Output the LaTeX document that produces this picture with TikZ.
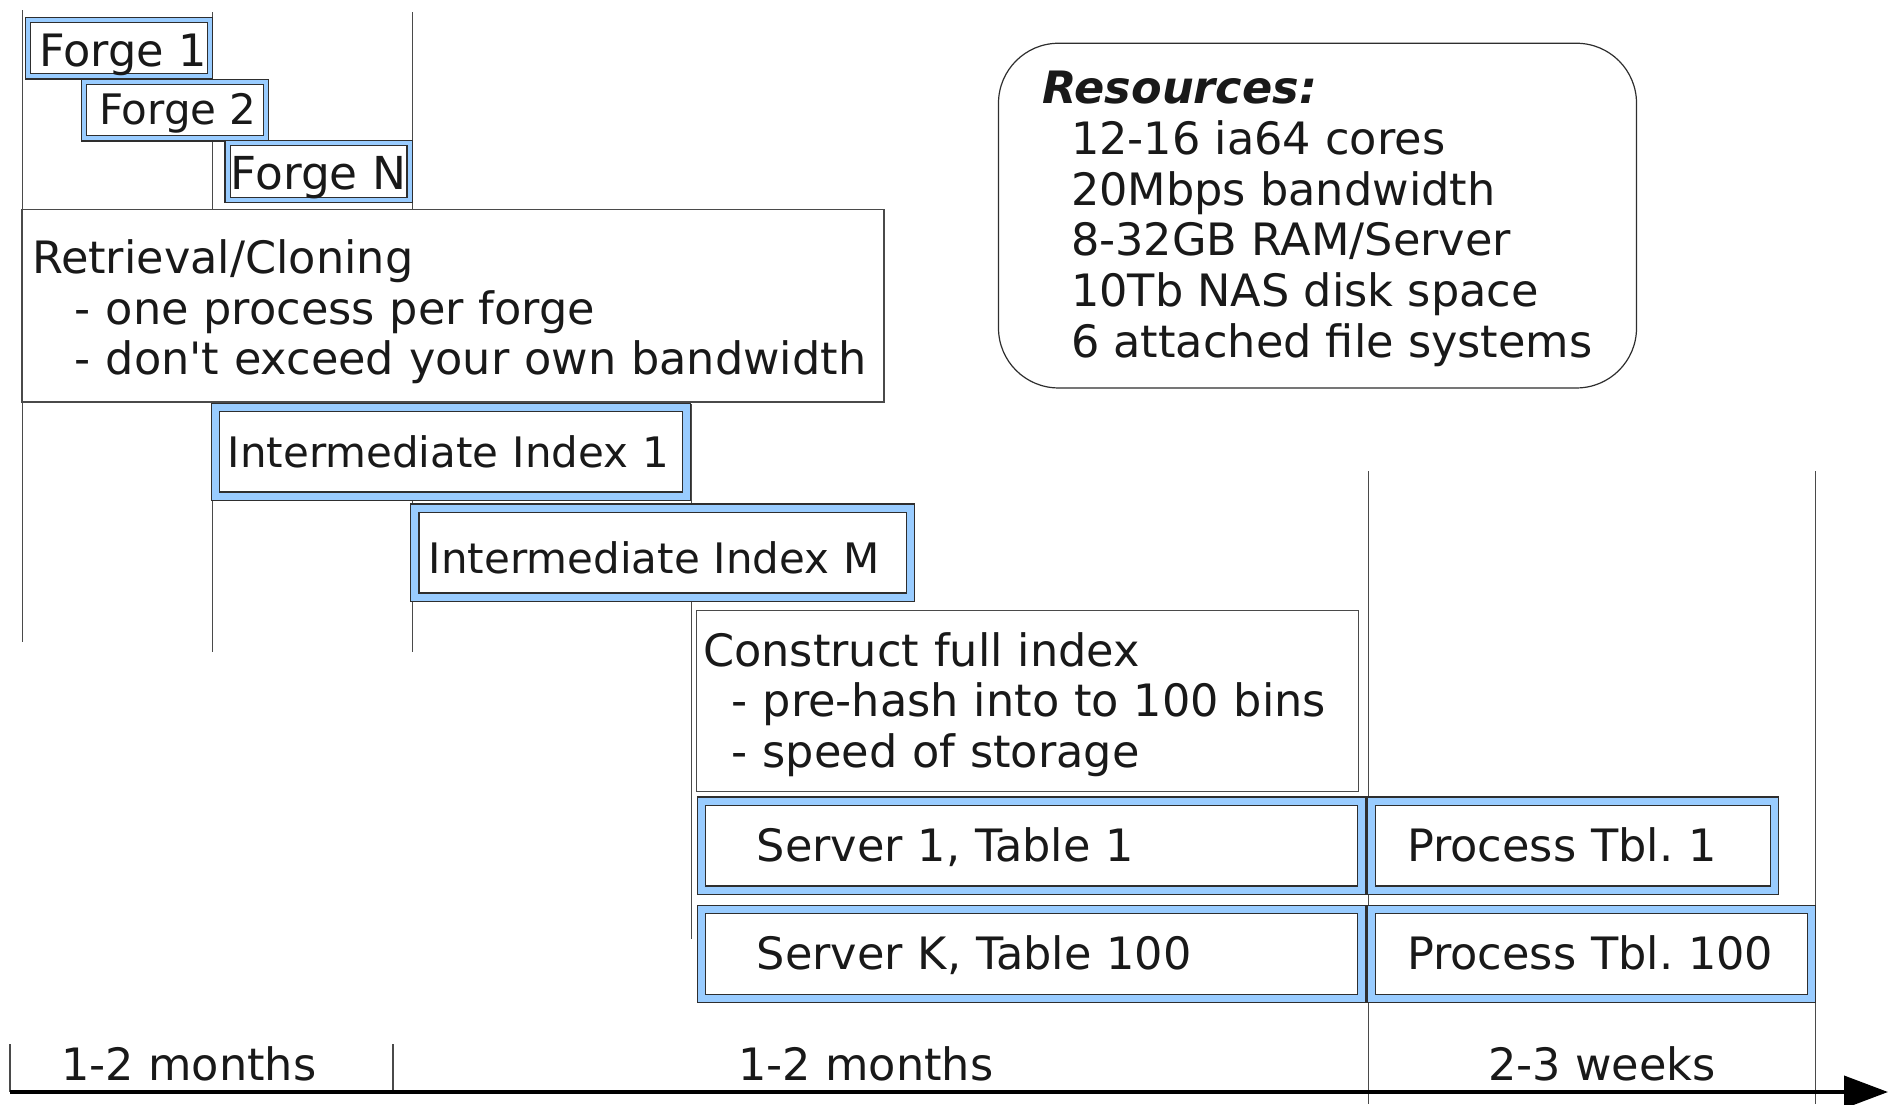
\documentclass[tikz,border=0pt]{standalone}
\usepackage{fontspec}
\setmainfont{DejaVu Sans}
\usetikzlibrary{arrows.meta}
\definecolor{bandblue}{HTML}{99CCFF}
\definecolor{boxline}{HTML}{2E2E2E}
\definecolor{gridline}{HTML}{4A4A4A}
\frenchspacing

\begin{document}
\begin{tikzpicture}[x=1pt, y=-1pt,
	every node/.style={font=\fontsize{44.6}{50.7}\selectfont, text=black!90, inner sep=0pt},
	forgebox/.style={draw=boxline, line width=1.2pt, double=bandblue, double distance=4pt, fill=white, minimum width=182pt, minimum height=56.6pt, text height=35.7pt, text depth=4.5pt},
	tablebox/.style={draw=boxline, line width=1.2pt, double=bandblue, double distance=7pt, fill=white, align=left, minimum height=89pt, text height=35.7pt, text depth=4.5pt},
	notebox/.style={draw=gridline, line width=1.2pt, fill=white, align=left},
	gridrule/.style={draw=gridline, line width=1pt},
	]
	\useasboundingbox (0,0) rectangle (1892,1104);

	\draw[gridrule] (22,10) -- (22,642);
	\draw[gridrule] (212,12) -- (212,652);
	\draw[gridrule] (412,12) -- (412,652);
	\draw[gridrule] (691,404) -- (691,939);
	\draw[gridrule] (1368,471) -- (1368,1104);
	\draw[gridrule] (1815,471) -- (1815,1104);

	\node[forgebox, text height=42pt] (F-00) at ( 119 ,  48  ) {\hspace*{8pt}Forge 1};
	\node[forgebox, text depth=7.5pt, font=\fontsize{42}{50.7}\selectfont] (F-01) at ( 175 , 110  ) {\hspace*{6pt}Forge 2};
	\node[forgebox, text height=40.5pt, font=\fontsize{45.4}{50.7}\selectfont] (F-02) at ( 318.5, 171.5) {Forge N};

	\node[notebox, inner xsep=10pt, text width=842pt, minimum height=192.5pt] (R-00) at ( 453 , 305.8) {\rule{0pt}{46pt}Retrieval/Cloning\\\hspace*{0.96em}- one process per forge\\\hspace*{0.96em}- don\textquotesingle t exceed your own bandwidth};

	\node[tablebox, inner xsep=12pt, text width=446.6pt, minimum height=88.6pt, font=\fontsize{42}{50.7}\selectfont] (I-00) at ( 451 , 451.7) {Intermediate Index 1};
	\node[tablebox, inner xsep=14pt, text width=467.6pt, text height=42pt, text depth=0.4pt, font=\fontsize{42}{50.7}\selectfont] (I-01) at ( 662.7, 552.5) {Intermediate Index M};

	\node[notebox, inner xsep=7pt, text width=648.4pt, minimum height=181pt] (C-00) at (1027.4, 701 ) {\rule{0pt}{41pt}Construct full index\\\hspace*{0.64em}- pre-hash into to 100 bins\\\hspace*{0.64em}- speed of storage};

	\node[tablebox, inner xsep=55pt, text width=550pt] (S-00) at (1031.7, 845.5) {Server 1, Table 1};
	\node[tablebox, inner xsep=55pt, text width=550pt] (S-01) at (1031.7, 954 ) {Server K, Table 100};

	\node[tablebox, inner xsep=36pt, text width=331.2pt] (P-00) at (1572.7, 845.5) {Process Tbl. 1};
	\node[tablebox, inner xsep=36pt, text width=368.2pt] (P-01) at (1591.2, 954 ) {Process Tbl. 100};

	\node[notebox, draw=boxline, rounded corners=60pt, inner xsep=44pt, minimum width=637pt, minimum height=344.7pt] (N-00) at (1317.5, 215.6) {\rule{0pt}{38.8pt}\textbf{\textit{Resources:}}\\\hspace*{0.64em}12-16 ia64 cores\\\hspace*{0.64em}20Mbps bandwidth\\\hspace*{0.64em}8-32GB RAM/Server\\\hspace*{0.64em}10Tb NAS disk space\\\hspace*{0.64em}6 attached file systems};

	\node (T-00) at ( 189 , 1064) {1-2 months};
	\node (T-01) at ( 866 , 1064) {1-2 months};
	\node (T-02) at (1602 , 1064) {2-3 weeks};

	\coordinate (A-00) at (  10 , 1092);
	\coordinate (A-01) at (1888 , 1092);
	\coordinate (K-00) at (  10 , 1044);
	\coordinate (K-01) at ( 393 , 1044);
	\coordinate (K-02) at ( 393 , 1092);

	\draw[gridrule, line width=1.2pt] (K-00) to (A-00);
	\draw[gridrule, line width=1.2pt] (K-01) to (K-02);
	\draw[line width=4pt, -{Triangle[length=44pt, width=32pt]}] (A-00) to (A-01);

\end{tikzpicture}
\end{document}
